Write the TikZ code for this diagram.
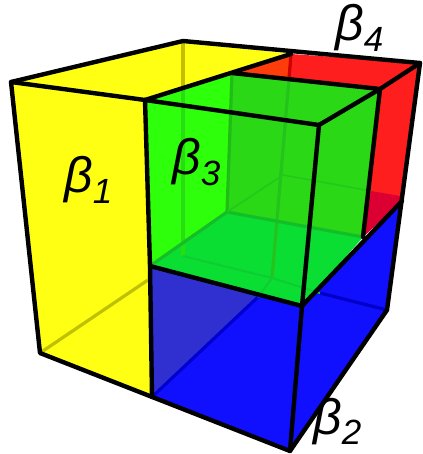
\documentclass[tikz,border=0pt]{standalone}
\usepackage{fontspec}
\setmainfont{Liberation Sans}
\usetikzlibrary{positioning}
\newcommand{\betaname}[1]{\textit{β\raisebox{-0.21em}{\fontsize{35}{35}\selectfont #1}}}

\begin{document}
\begin{tikzpicture}[
  x=1pt, y=-1pt,
  edge/.style={line width=4.4pt, line join=round, line cap=round},
  inner/.style={line width=3.2pt},
  labeltext/.style={font=\fontsize{50}{50}\selectfont, inner sep=0pt, anchor=base west}
]
\useasboundingbox (0,0) rectangle (422,454);

% outer corners
\coordinate (topLeft) at (11,82);
\coordinate (topBack) at (183,41);
\coordinate (topRight) at (420,63);
\coordinate (topFront) at (319,125);
\coordinate (botLeft) at (40,353);
\coordinate (botFront) at (290,451);
\coordinate (botRight) at (387,310);
\coordinate (botBack) at (183,256);
% divisions
\coordinate (topMid) at (145,100);
\coordinate (topSplit) at (291,54);
\coordinate (botMid) at (152,397);
\coordinate (botSplit) at (272,278);
\coordinate (midLeft) at (150,266);
\coordinate (midFront) at (302,306);
\coordinate (midRight) at (402,201);
\coordinate (midInner) at (363,237);
\coordinate (greenBack) at (232,73);
\coordinate (greenSide) at (380,89);
\coordinate (greenFloor) at (227,212);
\coordinate (redFloor) at (283,175);
\coordinate (redEdge) at (371,191);
\coordinate (redCorner) at (400,196);
\coordinate (blueBack) at (320,293);

% faces
\fill[fill={rgb,255:red,255;green,255;blue,20}] (topLeft) -- (topBack) -- (topSplit) -- (topMid) -- (midLeft) -- (botMid) -- (botLeft) -- cycle;
\fill[fill={rgb,255:red,255;green,30;blue,30}] (greenBack) -- (topSplit) -- (topRight) -- (midRight) -- (midInner) -- (greenSide) -- cycle;
\fill[fill={rgb,255:red,255;green,60;blue,10}] (greenBack) -- (topSplit) -- (289,79) -- cycle;
\fill[fill={rgb,255:red,220;green,0;blue,50}] (midInner) -- (redEdge) -- (redCorner) -- (midRight) -- cycle;
\fill[fill={rgb,255:red,16;green,16;blue,255}] (midLeft) -- (midFront) -- (midRight) -- (botRight) -- (botFront) -- (botMid) -- cycle;
\fill[fill={rgb,255:red,48;green,48;blue,208}] (midLeft) -- (258,297) -- (botMid) -- cycle;
\fill[fill={rgb,255:red,46;green,255;blue,10}] (topMid) -- (greenBack) -- (greenSide) -- (midInner) -- (midFront) -- (midLeft) -- cycle;
\fill[fill={rgb,255:red,42;green,216;blue,22}] (greenBack) -- (greenSide) -- (midInner) -- (greenFloor) -- cycle;
\fill[fill={rgb,255:red,10;green,222;blue,50}] (midLeft) -- (greenFloor) -- (midInner) -- (midFront) -- cycle;

% lines seen through the faces
\draw[inner, color={rgb,255:red,196;green,190;blue,0}] (topBack) -- (183,88);
\draw[inner, color={rgb,255:red,40;green,222;blue,16}] (183,90) -- (botBack);
\draw[inner, color={rgb,255:red,192;green,192;blue,0}] (botLeft) -- (148,280);
\draw[inner, color={rgb,255:red,0;green,0;blue,210}] (botMid) -- (258,297);
\draw[inner, color={rgb,255:red,0;green,0;blue,200}] (blueBack) -- (botRight);
\draw[inner, color={rgb,255:red,205;green,0;blue,0}] (topSplit) -- (289,79);
\draw[inner, color={rgb,255:red,36;green,196;blue,28}] (289,79) -- (botSplit);
\draw[inner, color={rgb,255:red,30;green,190;blue,20}] (greenBack) -- (greenFloor);
\draw[inner, color={rgb,255:red,20;green,190;blue,40}] (midLeft) -- (greenFloor) -- (midInner);
\draw[inner, line width=1.6pt, color={rgb,255:red,36;green,200;blue,28}] (greenFloor) -- (redFloor) -- (redEdge);
\draw[inner, line width=2pt, color={rgb,255:red,14;green,205;blue,50}] (botBack) -- (botSplit) -- (blueBack);
\draw[inner, line width=2pt, color={rgb,255:red,14;green,205;blue,50}] (botSplit) -- (258,297);

% black edges
\draw[edge] (topLeft) -- (topBack) -- (topRight) -- (botRight) -- (botFront) -- (botLeft) -- cycle;
\draw[edge] (topLeft) -- (topMid) -- (topFront) -- (midFront) -- (botFront);
\draw[edge] (topMid) -- (midLeft) -- (botMid);
\draw[edge] (topMid) -- (topSplit);
\draw[edge] (greenBack) -- (greenSide) -- (topRight);
\draw[edge] (topFront) -- (greenSide) -- (midInner);
\draw[edge] (midLeft) -- (midFront) -- (midRight);

% labels
\node[labeltext] (betaOne) at (64,193) {\betaname{1}};
\node[labeltext] (betaTwo) at (313,434) {\betaname{2}};
\node[labeltext] (betaThree) at (172,175) {\betaname{3}};
\node[labeltext] (betaFour) at (335,41) {\betaname{4}};
\end{tikzpicture}
\end{document}
